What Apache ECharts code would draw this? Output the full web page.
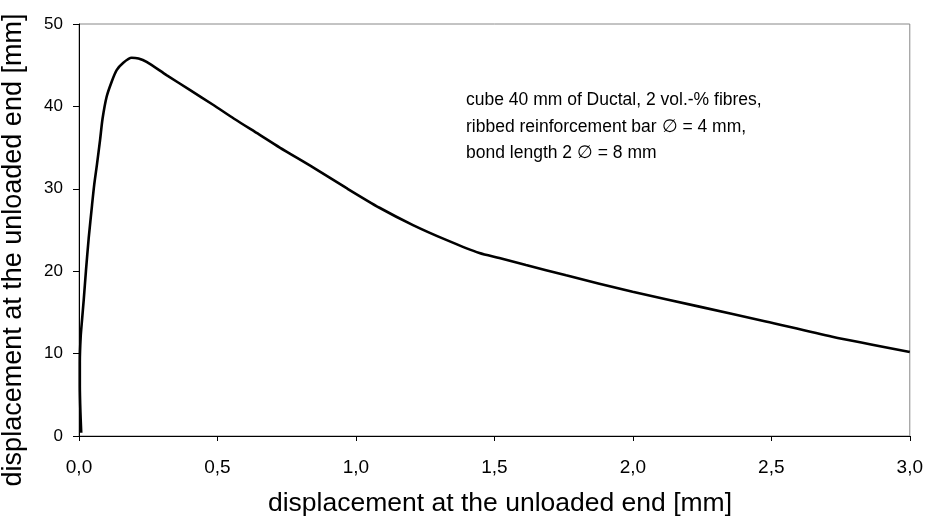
<!DOCTYPE html>
<html>
<head>
<meta charset="utf-8">
<script src="https://cdn.jsdelivr.net/npm/echarts@6/dist/echarts.min.js"></script>
<style>html,body{margin:0;padding:0;background:#fff}#c{width:926px;height:519px}</style>
</head>
<body>
<div id="c"></div>
<script>
const xValues = [0.008,0.005,0.003,0.003,0.006,0.011,0.017,0.025,0.035,0.047,0.055,0.065,0.076,0.085,0.1,0.118,0.136,0.16,0.19,0.215,0.244,0.316,0.4,0.484,0.56,0.65,0.725,0.845,0.965,1.085,1.206,1.326,1.446,1.518,1.614,1.759,1.999,2.24,2.48,2.72,3.0];
const yValues = [0.4,3,6,9,12,14.1,16.5,20,24,28,30.5,33,35.9,38.5,41.2,43,44.4,45.3,45.9,45.8,45.4,43.8,42,40.2,38.5,36.6,35.0,32.6,30.1,27.7,25.6,23.8,22.2,21.6,20.75,19.5,17.5,15.7,13.9,12.05,10.2];
const xTitle = 'displacement at the unloaded end [mm]';
const yTitle = 'displacement at the unloaded end [mm]';
const noteLines = ['cube 40 mm of Ductal, 2 vol.-% fibres,', 'ribbed reinforcement bar \u2205 = 4 mm,', 'bond length 2 \u2205 = 8 mm'];

const FONT = '"Liberation Sans", Arial, sans-serif';
const chart = echarts.init(document.getElementById('c'), null, {renderer: 'canvas'});
const fmt = v => v.toFixed(1).replace('.', ',');
chart.setOption({
  animation: false,
  textStyle: {fontFamily: FONT},
  grid: {left: 79, right: 14, top: 24, bottom: 83, show: true, borderColor: '#888', borderWidth: 1},
  xAxis: {
    type: 'value', min: 0, max: 3, interval: 0.5,
    axisLine: {onZero: false, lineStyle: {color: '#000', width: 1}},
    axisTick: {inside: false, length: 5, lineStyle: {color: '#000'}},
    axisLabel: {formatter: fmt, fontSize: 19, color: '#000', margin: 22, fontFamily: FONT},
    splitLine: {show: false}
  },
  yAxis: {
    type: 'value', min: 0, max: 50, interval: 10,
    axisLine: {onZero: false, lineStyle: {color: '#000', width: 1}},
    axisTick: {inside: false, length: 6, lineStyle: {color: '#000'}},
    axisLabel: {fontSize: 17, color: '#000', margin: 16, fontFamily: FONT},
    splitLine: {show: false}
  },
  graphic: [
    {type: 'text', x: 14, y: 250, rotation: Math.PI / 2, z: 10,
     style: {text: yTitle, fontSize: 27, fontFamily: FONT, fill: '#000', textAlign: 'center', textVerticalAlign: 'middle'}},
    {type: 'text', x: 500, y: 504, z: 10,
     style: {text: xTitle, fontSize: 26.5, fontFamily: FONT, fill: '#000', textAlign: 'center', textVerticalAlign: 'middle'}},
    {type: 'text', x: 466, y: 127, z: 10,
     style: {text: noteLines.join('\n'), fontSize: 17.5, lineHeight: 26.5, fontFamily: FONT, fill: '#000', textVerticalAlign: 'middle'}}
  ],
  series: [{
    type: 'line',
    data: xValues.map((x, i) => [x, yValues[i]]),
    showSymbol: false,
    smooth: 0.25,
    lineStyle: {color: '#000', width: 2.6},
    clip: false
  }]
});
</script>
</body>
</html>
